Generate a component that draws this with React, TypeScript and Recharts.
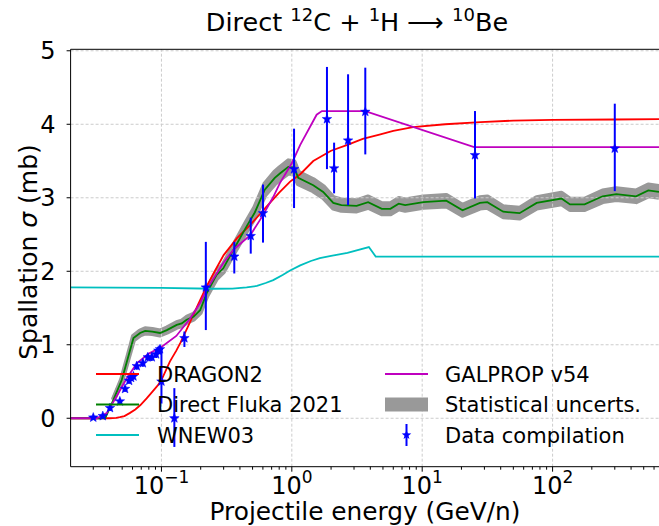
import React from "react";
import { ComposedChart, Line, Area, Scatter, XAxis, YAxis, ErrorBar, ReferenceLine } from "recharts";

// ---------- data ----------
const DRAGON_E = [0.02, 0.04, 0.045, 0.048, 0.052, 0.057, 0.063, 0.069, 0.077, 0.085, 0.093, 0.1, 0.116, 0.13, 0.14, 0.165, 0.19, 0.22, 0.26, 0.3, 0.38, 0.48, 0.64, 0.8, 0.97, 1.16, 1.46, 2.0, 2.67, 3.5, 4.7, 6, 8.5, 15, 28, 50, 100, 300, 655];
const DRAGON_S = [0, 0, 0.005, 0.015, 0.03, 0.07, 0.12, 0.18, 0.27, 0.36, 0.44, 0.52, 0.77, 0.92, 1.03, 1.3, 1.54, 1.78, 2.02, 2.22, 2.45, 2.63, 2.88, 3.07, 3.22, 3.32, 3.5, 3.64, 3.72, 3.8, 3.86, 3.91, 3.96, 4.0, 4.03, 4.05, 4.06, 4.065, 4.07];

const FLUKA_E = [0.02, 0.037, 0.0428, 0.0496, 0.0557, 0.061, 0.0686, 0.075, 0.085, 0.0975, 0.11, 0.131, 0.143, 0.156, 0.176, 0.198, 0.222, 0.265, 0.298, 0.356, 0.45, 0.52, 0.62, 0.74, 0.81, 0.94, 1.04, 1.12, 1.46, 1.74, 2.08, 2.4, 3.14, 3.85, 4.9, 5.7, 6.6, 7.4, 10.2, 15.3, 20.4, 27.7, 31.6, 41.8, 55.8, 75.5, 117, 136, 176, 242, 308, 437, 542, 655];
const FLUKA_S = [0, 0, 0.25, 0.52, 0.84, 1.09, 1.16, 1.19, 1.18, 1.16, 1.2, 1.27, 1.29, 1.34, 1.38, 1.47, 1.7, 1.95, 2.04, 2.29, 2.61, 2.8, 3.11, 3.27, 3.33, 3.42, 3.41, 3.27, 3.17, 3.08, 2.93, 2.9, 2.89, 2.94, 2.85, 2.85, 2.92, 2.9, 2.94, 2.96, 2.83, 2.93, 2.94, 2.81, 2.79, 2.93, 2.99, 2.91, 2.91, 3.02, 3.05, 3.02, 3.1, 3.08];
const FLUKA_REL_UNC = 0.024;

const WNEW_E = [0.02, 0.1, 0.25, 0.35, 0.45, 0.54, 0.63, 0.72, 0.85, 0.97, 1.16, 1.4, 1.64, 2.0, 2.67, 3.9, 4.4, 655];
const WNEW_S = [1.78, 1.775, 1.762, 1.765, 1.78, 1.8, 1.84, 1.88, 1.95, 2.01, 2.08, 2.14, 2.18, 2.21, 2.25, 2.33, 2.2, 2.2];

const GALPROP_E = [0.02, 0.032, 0.038, 0.045, 0.054, 0.065, 0.08, 0.1, 0.13, 0.165, 0.2, 0.22, 0.3, 0.36, 0.48, 0.59, 0.72, 0.81, 1.0, 1.16, 1.55, 1.7, 3.66, 25, 655];
const GALPROP_S = [0, 0, 0.07, 0.29, 0.54, 0.75, 0.88, 0.97, 1.12, 1.35, 1.58, 1.74, 2.12, 2.3, 2.49, 2.74, 3.01, 3.2, 3.47, 3.72, 4.13, 4.18, 4.18, 3.69, 3.69];

const DATA_E = [0.03, 0.0355, 0.0403, 0.048, 0.0526, 0.0565, 0.0585, 0.061, 0.0647, 0.072, 0.0786, 0.0843, 0.091, 0.0946, 0.0975, 0.1, 0.1256, 0.15, 0.219, 0.362, 0.484, 0.601, 1.04, 1.86, 2.11, 2.7, 3.66, 25.4, 300];
const DATA_S = [0.01, 0.03, 0.14, 0.23, 0.4, 0.51, 0.55, 0.57, 0.71, 0.75, 0.83, 0.83, 0.87, 0.92, 0.94, 0.5, 0.0, 1.09, 1.78, 2.2, 2.48, 2.79, 3.39, 4.07, 3.4, 3.78, 4.17, 3.58, 3.67];
const DATA_LO = [0, 0.01, 0.1, 0.19, 0.36, 0.47, 0.51, 0.53, 0.66, 0.7, 0.78, 0.78, 0.82, 0.87, 0.89, 0.2, -0.39, 0.97, 1.2, 1.97, 2.24, 2.39, 2.86, 3.39, 3.06, 2.9, 3.59, 2.99, 3.09];
const DATA_HI = [0.02, 0.05, 0.18, 0.27, 0.44, 0.55, 0.59, 0.61, 0.76, 0.8, 0.88, 0.88, 0.92, 0.97, 0.99, 0.96, 0.41, 1.18, 2.4, 2.4, 2.73, 3.18, 3.94, 4.78, 3.75, 4.68, 4.77, 4.18, 4.28];

const X_MAJOR = [0.1, 1, 10, 100];
const X_MAJOR_EXP = ["\u22121", "0", "1", "2"];
const X_MINOR = [0.03, 0.04, 0.05, 0.06, 0.07, 0.08, 0.09, 0.2, 0.3, 0.4, 0.5, 0.6, 0.7, 0.8, 0.9, 2, 3, 4, 5, 6, 7, 8, 9, 20, 30, 40, 50, 60, 70, 80, 90, 200, 300, 400, 500, 600];
const Y_TICKS = [0, 1, 2, 3, 4, 5];

const TITLE = "Direct";
const X_LABEL = "Projectile energy (GeV/n)";

const LEGEND_COL1 = ["DRAGON2", "Direct Fluka 2021", "WNEW03"];
const LEGEND_COL2 = ["GALPROP v54", "Statistical uncerts.", "Data compilation"];

// ---------- build series ----------
const toPts = (e: number[], s: number[]) => e.map((x, i) => ({ x, y: s[i] }));
const dragon = toPts(DRAGON_E, DRAGON_S);
const fluka = toPts(FLUKA_E, FLUKA_S);
const flukaBand = FLUKA_E.map((x, i) => ({ x, s: FLUKA_S[i] }))
  .filter((p) => p.s > 0)
  .map((p) => ({ x: p.x, band: [p.s * (1 - FLUKA_REL_UNC), p.s * (1 + FLUKA_REL_UNC)] }));
const wnew = toPts(WNEW_E, WNEW_S);
const galprop = toPts(GALPROP_E, GALPROP_S);
const dataPts = DATA_E.map((x, i) => ({ x, y: DATA_S[i], err: [DATA_S[i] - DATA_LO[i], DATA_HI[i] - DATA_S[i]] }));

const FONT = "DejaVu Sans";
const RED = "#ff0000";
const GREEN = "#008000";
const CYAN = "#00bfbf";
const MAGENTA = "#bf00bf";
const BLUE = "#0000ff";
const BAND = "#999999";

const starPath = (cx: number, cy: number, R: number) => {
  const r = R * 0.42;
  let d = "";
  for (let k = 0; k < 10; k++) {
    const ang = -Math.PI / 2 + (k * Math.PI) / 5;
    const rad = k % 2 === 0 ? R : r;
    d += (k === 0 ? "M" : "L") + (cx + rad * Math.cos(ang)).toFixed(2) + "," + (cy + rad * Math.sin(ang)).toFixed(2);
  }
  return d + "Z";
};

const Star = (p: any) => <path d={starPath(p.cx, p.cy, 5)} fill={BLUE} stroke={BLUE} strokeWidth={0.5} />;

const XTick = (props: any) => {
  const { x, y, payload } = props;
  const idx = X_MAJOR.indexOf(payload.value);
  const major = idx >= 0;
  return (
    <g>
      <line x1={x} x2={x} y1={y} y2={y + (major ? 5 : 3)} stroke="#000" strokeWidth={1} />
      {major && (
        <text x={x} y={y + 27} textAnchor="middle" fontSize={24} fill="#000" fontFamily={FONT}>
          10
          <tspan dy={-10.5} fontSize={17}>{X_MAJOR_EXP[idx]}</tspan>
        </text>
      )}
    </g>
  );
};

const YTick = (props: any) => {
  const { x, y, payload } = props;
  return (
    <g>
      <line x1={x} x2={x - 4} y1={y} y2={y} stroke="#000" strokeWidth={1} />
      <text x={x - 15} y={y + 8.5} textAnchor="end" fontSize={24} fill="#000" fontFamily={FONT}>
        {payload.value}
      </text>
    </g>
  );
};

const W = 659;
const H = 526;
const X_DOMAIN: [number, number] = [0.0201, 655];
const Y_DOMAIN: [number, number] = [-0.659, 5.02];

export default function App() {
  const rowY = [374, 404.5, 435];
  const c1x = 96, c2x = 385, lineLen = 43, textOff = 61;
  const col1Colors = [RED, GREEN, CYAN];
  return (
    <div style={{ position: "absolute", left: 0, top: 0, width: W, height: H, background: "#fff" }}>
      <ComposedChart width={W} height={H} margin={{ top: 49.3, right: 0, bottom: 0, left: 0 }}>
        <XAxis
          dataKey="x"
          type="number"
          scale="log"
          domain={X_DOMAIN}
          allowDataOverflow
          ticks={[...X_MAJOR, ...X_MINOR]}
          interval={0}
          tick={<XTick />}
          tickLine={false}
          tickSize={0}
          tickMargin={0}
          height={59.3}
          axisLine={{ stroke: "#000", strokeWidth: 1 }}
        />
        <YAxis
          type="number"
          domain={Y_DOMAIN}
          allowDataOverflow
          ticks={Y_TICKS}
          interval={0}
          tick={<YTick />}
          tickLine={false}
          tickSize={0}
          tickMargin={0}
          width={70.6}
          axisLine={{ stroke: "#000", strokeWidth: 1 }}
        />
        {X_MAJOR.map((v) => (
          <ReferenceLine key={"gx" + v} x={v} stroke="#cccccc" strokeDasharray="3 2" strokeWidth={1} />
        ))}
        {Y_TICKS.map((v) => (
          <ReferenceLine key={"gy" + v} y={v} stroke="#cccccc" strokeDasharray="3 2" strokeWidth={1} />
        ))}
        <ReferenceLine y={Y_DOMAIN[1]} stroke="#000" strokeWidth={1} />
        <Area
          data={flukaBand}
          dataKey="band"
          type="linear"
          fill={BAND}
          fillOpacity={1}
          stroke={BAND}
          strokeWidth={5}
          strokeLinejoin="round"
          isAnimationActive={false}
          activeDot={false}
        />
        <Line data={dragon} dataKey="y" type="linear" stroke={RED} strokeWidth={1.8} dot={false} activeDot={false} isAnimationActive={false} />
        <Line data={fluka} dataKey="y" type="linear" stroke={GREEN} strokeWidth={1.8} dot={false} activeDot={false} isAnimationActive={false} />
        <Line data={wnew} dataKey="y" type="linear" stroke={CYAN} strokeWidth={1.8} dot={false} activeDot={false} isAnimationActive={false} />
        <Line data={galprop} dataKey="y" type="linear" stroke={MAGENTA} strokeWidth={1.8} dot={false} activeDot={false} isAnimationActive={false} />
        <Scatter data={dataPts} dataKey="y" shape={<Star />} isAnimationActive={false}>
          <ErrorBar dataKey="err" direction="y" width={0} stroke={BLUE} strokeWidth={2} isAnimationActive={false} />
        </Scatter>
      </ComposedChart>
      <svg width={W} height={H} style={{ position: "absolute", left: 0, top: 0, pointerEvents: "none" }} fontFamily={FONT}>
        <text x={357} y={31} textAnchor="middle" fontSize={25.5} fill="#000">
          {TITLE + " "}
          <tspan dy={-10} fontSize={18}>12</tspan>
          <tspan dy={10}>C + </tspan>
          <tspan dy={-10} fontSize={18}>1</tspan>
          <tspan dy={10}>{"H \u27F6 "}</tspan>
          <tspan dy={-10} fontSize={18}>10</tspan>
          <tspan dy={10}>Be</tspan>
        </text>
        <text x={365} y={520} textAnchor="middle" fontSize={24.8} fill="#000">{X_LABEL}</text>
        <text x={37} y={252} textAnchor="middle" fontSize={25} fill="#000" transform="rotate(-90 37 252)">
          Spallation <tspan fontStyle="italic">σ</tspan> (mb)
        </text>
        {LEGEND_COL1.map((t, i) => (
          <g key={t}>
            <line x1={c1x} x2={c1x + lineLen} y1={rowY[i]} y2={rowY[i]} stroke={col1Colors[i]} strokeWidth={1.8} />
            <text x={c1x + textOff} y={rowY[i] + 7.7} fontSize={21} fill="#000">{t}</text>
          </g>
        ))}
        <line x1={c2x} x2={c2x + lineLen} y1={rowY[0]} y2={rowY[0]} stroke={MAGENTA} strokeWidth={1.8} />
        <rect x={c2x} y={rowY[1] - 7} width={lineLen} height={14} fill={BAND} />
        <line x1={c2x + lineLen / 2} x2={c2x + lineLen / 2} y1={rowY[2] - 11} y2={rowY[2] + 11} stroke={BLUE} strokeWidth={2} />
        <path d={starPath(c2x + lineLen / 2, rowY[2], 5)} fill={BLUE} />
        {LEGEND_COL2.map((t, i) => (
          <text key={t} x={c2x + textOff - 1} y={rowY[i] + 7.7} fontSize={21} fill="#000">{t}</text>
        ))}
      </svg>
    </div>
  );
}
